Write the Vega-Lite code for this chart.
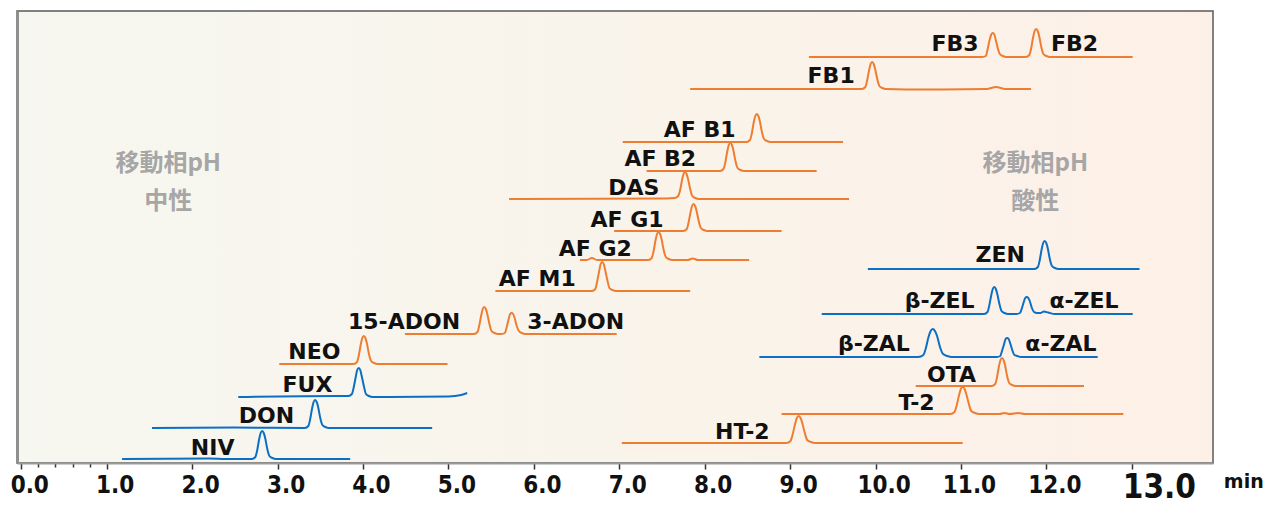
{
  "$schema": "https://vega.github.io/schema/vega-lite/v6.json",
  "width": 1196,
  "height": 452,
  "autosize": "none",
  "padding": {"left": 17, "top": 11, "right": 59, "bottom": 43},
  "background": "white",
  "config": {"view": {"stroke": "#5a5a5a", "strokeWidth": 1.5, "fill": {"gradient": "linear", "x1": 0, "x2": 1, "y1": 0, "y2": 0, "stops": [{"offset": 0, "color": "#f6f7f0"}, {"offset": 0.5, "color": "#f9f4eb"}, {"offset": 1, "color": "#fdf0e7"}]}}},
  "datasets": {
    "traces": [
      {"s":"NIV","c":"b","t":1.18,"v":4},{"s":"NIV","c":"b","t":2.2,"v":4.5},{"s":"NIV","c":"b","t":2.4,"v":4},{"s":"NIV","c":"b","t":2.7,"v":4},{"s":"NIV","c":"b","t":2.74,"v":6},{"s":"NIV","c":"b","t":2.76,"v":12},{"s":"NIV","c":"b","t":2.785,"v":24},{"s":"NIV","c":"b","t":2.802,"v":30},{"s":"NIV","c":"b","t":2.82,"v":32},{"s":"NIV","c":"b","t":2.838,"v":30},{"s":"NIV","c":"b","t":2.855,"v":25},{"s":"NIV","c":"b","t":2.88,"v":14},{"s":"NIV","c":"b","t":2.905,"v":7},{"s":"NIV","c":"b","t":2.94,"v":5},{"s":"NIV","c":"b","t":2.98,"v":4},{"s":"NIV","c":"b","t":3.85,"v":4},
      {"s":"DON","c":"b","t":1.53,"v":35},{"s":"DON","c":"b","t":2.5,"v":35.5},{"s":"DON","c":"b","t":3.32,"v":35},{"s":"DON","c":"b","t":3.36,"v":37},{"s":"DON","c":"b","t":3.38,"v":43},{"s":"DON","c":"b","t":3.405,"v":55},{"s":"DON","c":"b","t":3.422,"v":61},{"s":"DON","c":"b","t":3.44,"v":63},{"s":"DON","c":"b","t":3.458,"v":61},{"s":"DON","c":"b","t":3.475,"v":56},{"s":"DON","c":"b","t":3.5,"v":45},{"s":"DON","c":"b","t":3.525,"v":38},{"s":"DON","c":"b","t":3.56,"v":36},{"s":"DON","c":"b","t":3.6,"v":35},{"s":"DON","c":"b","t":4.81,"v":35},
      {"s":"FUX","c":"b","t":2.54,"v":66},{"s":"FUX","c":"b","t":3.7,"v":67},{"s":"FUX","c":"b","t":3.83,"v":67},{"s":"FUX","c":"b","t":3.87,"v":69},{"s":"FUX","c":"b","t":3.89,"v":75},{"s":"FUX","c":"b","t":3.915,"v":86},{"s":"FUX","c":"b","t":3.932,"v":93},{"s":"FUX","c":"b","t":3.95,"v":95},{"s":"FUX","c":"b","t":3.968,"v":93},{"s":"FUX","c":"b","t":3.985,"v":87},{"s":"FUX","c":"b","t":4.01,"v":77},{"s":"FUX","c":"b","t":4.035,"v":69},{"s":"FUX","c":"b","t":4.07,"v":67},{"s":"FUX","c":"b","t":4.11,"v":66},{"s":"FUX","c":"b","t":5.0,"v":66.5},{"s":"FUX","c":"b","t":5.15,"v":68},{"s":"FUX","c":"b","t":5.22,"v":70},
      {"s":"NEO","c":"o","t":3.02,"v":99},{"s":"NEO","c":"o","t":3.89,"v":99},{"s":"NEO","c":"o","t":3.93,"v":101},{"s":"NEO","c":"o","t":3.95,"v":107},{"s":"NEO","c":"o","t":3.975,"v":119},{"s":"NEO","c":"o","t":3.992,"v":125},{"s":"NEO","c":"o","t":4.01,"v":127},{"s":"NEO","c":"o","t":4.028,"v":125},{"s":"NEO","c":"o","t":4.045,"v":120},{"s":"NEO","c":"o","t":4.07,"v":109},{"s":"NEO","c":"o","t":4.095,"v":102},{"s":"NEO","c":"o","t":4.13,"v":100},{"s":"NEO","c":"o","t":4.17,"v":99},{"s":"NEO","c":"o","t":4.99,"v":99},
      {"s":"ADON","c":"o","t":4.49,"v":129},{"s":"ADON","c":"o","t":5.3,"v":129},{"s":"ADON","c":"o","t":5.34,"v":131},{"s":"ADON","c":"o","t":5.36,"v":137},{"s":"ADON","c":"o","t":5.385,"v":148},{"s":"ADON","c":"o","t":5.402,"v":154},{"s":"ADON","c":"o","t":5.42,"v":156},{"s":"ADON","c":"o","t":5.438,"v":154},{"s":"ADON","c":"o","t":5.455,"v":149},{"s":"ADON","c":"o","t":5.48,"v":139},{"s":"ADON","c":"o","t":5.505,"v":132},{"s":"ADON","c":"o","t":5.54,"v":130},{"s":"ADON","c":"o","t":5.58,"v":129},{"s":"ADON","c":"o","t":5.62,"v":129},{"s":"ADON","c":"o","t":5.66,"v":130},{"s":"ADON","c":"o","t":5.68,"v":135},{"s":"ADON","c":"o","t":5.705,"v":144},{"s":"ADON","c":"o","t":5.722,"v":149},{"s":"ADON","c":"o","t":5.74,"v":150},{"s":"ADON","c":"o","t":5.758,"v":149},{"s":"ADON","c":"o","t":5.775,"v":145},{"s":"ADON","c":"o","t":5.8,"v":137},{"s":"ADON","c":"o","t":5.825,"v":132},{"s":"ADON","c":"o","t":5.86,"v":130},{"s":"ADON","c":"o","t":5.9,"v":129},{"s":"ADON","c":"o","t":6.97,"v":129},
      {"s":"AFM1","c":"o","t":5.55,"v":172},{"s":"AFM1","c":"o","t":6.68,"v":172},{"s":"AFM1","c":"o","t":6.72,"v":174},{"s":"AFM1","c":"o","t":6.74,"v":181},{"s":"AFM1","c":"o","t":6.765,"v":192},{"s":"AFM1","c":"o","t":6.782,"v":199},{"s":"AFM1","c":"o","t":6.8,"v":201},{"s":"AFM1","c":"o","t":6.818,"v":199},{"s":"AFM1","c":"o","t":6.835,"v":193},{"s":"AFM1","c":"o","t":6.86,"v":183},{"s":"AFM1","c":"o","t":6.885,"v":175},{"s":"AFM1","c":"o","t":6.92,"v":173},{"s":"AFM1","c":"o","t":6.96,"v":172},{"s":"AFM1","c":"o","t":7.83,"v":172},
      {"s":"AFG2","c":"o","t":6.54,"v":203},{"s":"AFG2","c":"o","t":6.62,"v":203},{"s":"AFG2","c":"o","t":6.68,"v":205},{"s":"AFG2","c":"o","t":6.74,"v":203},{"s":"AFG2","c":"o","t":7.34,"v":203},{"s":"AFG2","c":"o","t":7.38,"v":205},{"s":"AFG2","c":"o","t":7.4,"v":211},{"s":"AFG2","c":"o","t":7.425,"v":223},{"s":"AFG2","c":"o","t":7.442,"v":229},{"s":"AFG2","c":"o","t":7.46,"v":231},{"s":"AFG2","c":"o","t":7.478,"v":229},{"s":"AFG2","c":"o","t":7.495,"v":224},{"s":"AFG2","c":"o","t":7.52,"v":213},{"s":"AFG2","c":"o","t":7.545,"v":206},{"s":"AFG2","c":"o","t":7.58,"v":204},{"s":"AFG2","c":"o","t":7.62,"v":203},{"s":"AFG2","c":"o","t":7.8,"v":203},{"s":"AFG2","c":"o","t":7.86,"v":204.5},{"s":"AFG2","c":"o","t":7.92,"v":203},{"s":"AFG2","c":"o","t":8.52,"v":203},
      {"s":"AFG1","c":"o","t":6.94,"v":232},{"s":"AFG1","c":"o","t":7.75,"v":232},{"s":"AFG1","c":"o","t":7.79,"v":234},{"s":"AFG1","c":"o","t":7.81,"v":240},{"s":"AFG1","c":"o","t":7.835,"v":251},{"s":"AFG1","c":"o","t":7.852,"v":257},{"s":"AFG1","c":"o","t":7.87,"v":259},{"s":"AFG1","c":"o","t":7.888,"v":257},{"s":"AFG1","c":"o","t":7.905,"v":252},{"s":"AFG1","c":"o","t":7.93,"v":242},{"s":"AFG1","c":"o","t":7.955,"v":235},{"s":"AFG1","c":"o","t":7.99,"v":233},{"s":"AFG1","c":"o","t":8.03,"v":232},{"s":"AFG1","c":"o","t":8.9,"v":232},
      {"s":"DAS","c":"o","t":5.71,"v":264},{"s":"DAS","c":"o","t":7.55,"v":264.5},{"s":"DAS","c":"o","t":7.65,"v":265},{"s":"DAS","c":"o","t":7.69,"v":267},{"s":"DAS","c":"o","t":7.71,"v":272},{"s":"DAS","c":"o","t":7.735,"v":283},{"s":"DAS","c":"o","t":7.752,"v":289},{"s":"DAS","c":"o","t":7.77,"v":291},{"s":"DAS","c":"o","t":7.788,"v":289},{"s":"DAS","c":"o","t":7.805,"v":284},{"s":"DAS","c":"o","t":7.83,"v":274},{"s":"DAS","c":"o","t":7.855,"v":267},{"s":"DAS","c":"o","t":7.89,"v":265},{"s":"DAS","c":"o","t":7.93,"v":264},{"s":"DAS","c":"o","t":9.69,"v":264},
      {"s":"AFB2","c":"o","t":7.32,"v":292},{"s":"AFB2","c":"o","t":8.18,"v":292},{"s":"AFB2","c":"o","t":8.22,"v":294},{"s":"AFB2","c":"o","t":8.24,"v":300},{"s":"AFB2","c":"o","t":8.265,"v":312},{"s":"AFB2","c":"o","t":8.282,"v":318},{"s":"AFB2","c":"o","t":8.3,"v":320},{"s":"AFB2","c":"o","t":8.318,"v":318},{"s":"AFB2","c":"o","t":8.335,"v":313},{"s":"AFB2","c":"o","t":8.36,"v":302},{"s":"AFB2","c":"o","t":8.385,"v":295},{"s":"AFB2","c":"o","t":8.42,"v":293},{"s":"AFB2","c":"o","t":8.46,"v":292},{"s":"AFB2","c":"o","t":9.31,"v":292},
      {"s":"AFB1","c":"o","t":7.04,"v":321},{"s":"AFB1","c":"o","t":8.49,"v":321},{"s":"AFB1","c":"o","t":8.53,"v":323},{"s":"AFB1","c":"o","t":8.55,"v":329},{"s":"AFB1","c":"o","t":8.575,"v":341},{"s":"AFB1","c":"o","t":8.592,"v":347},{"s":"AFB1","c":"o","t":8.61,"v":349},{"s":"AFB1","c":"o","t":8.628,"v":347},{"s":"AFB1","c":"o","t":8.645,"v":342},{"s":"AFB1","c":"o","t":8.67,"v":331},{"s":"AFB1","c":"o","t":8.695,"v":324},{"s":"AFB1","c":"o","t":8.73,"v":322},{"s":"AFB1","c":"o","t":8.77,"v":321},{"s":"AFB1","c":"o","t":9.62,"v":321},
      {"s":"FB1","c":"o","t":7.83,"v":374},{"s":"FB1","c":"o","t":9.84,"v":374},{"s":"FB1","c":"o","t":9.88,"v":376},{"s":"FB1","c":"o","t":9.9,"v":382},{"s":"FB1","c":"o","t":9.925,"v":393},{"s":"FB1","c":"o","t":9.942,"v":399},{"s":"FB1","c":"o","t":9.96,"v":401},{"s":"FB1","c":"o","t":9.978,"v":399},{"s":"FB1","c":"o","t":9.995,"v":394},{"s":"FB1","c":"o","t":10.02,"v":384},{"s":"FB1","c":"o","t":10.045,"v":377},{"s":"FB1","c":"o","t":10.08,"v":375},{"s":"FB1","c":"o","t":10.12,"v":374},{"s":"FB1","c":"o","t":10.6,"v":373.5},{"s":"FB1","c":"o","t":11.3,"v":374},{"s":"FB1","c":"o","t":11.41,"v":376},{"s":"FB1","c":"o","t":11.52,"v":374},{"s":"FB1","c":"o","t":11.82,"v":374},
      {"s":"FB23","c":"o","t":9.22,"v":406},{"s":"FB23","c":"o","t":11.25,"v":406},{"s":"FB23","c":"o","t":11.29,"v":407},{"s":"FB23","c":"o","t":11.31,"v":413},{"s":"FB23","c":"o","t":11.335,"v":423},{"s":"FB23","c":"o","t":11.352,"v":428},{"s":"FB23","c":"o","t":11.37,"v":430},{"s":"FB23","c":"o","t":11.388,"v":429},{"s":"FB23","c":"o","t":11.405,"v":424},{"s":"FB23","c":"o","t":11.43,"v":415},{"s":"FB23","c":"o","t":11.455,"v":409},{"s":"FB23","c":"o","t":11.49,"v":407},{"s":"FB23","c":"o","t":11.53,"v":406},{"s":"FB23","c":"o","t":11.76,"v":406},{"s":"FB23","c":"o","t":11.8,"v":408},{"s":"FB23","c":"o","t":11.82,"v":414},{"s":"FB23","c":"o","t":11.845,"v":426},{"s":"FB23","c":"o","t":11.862,"v":432},{"s":"FB23","c":"o","t":11.88,"v":434},{"s":"FB23","c":"o","t":11.898,"v":432},{"s":"FB23","c":"o","t":11.915,"v":427},{"s":"FB23","c":"o","t":11.94,"v":416},{"s":"FB23","c":"o","t":11.965,"v":409},{"s":"FB23","c":"o","t":12.0,"v":407},{"s":"FB23","c":"o","t":12.04,"v":406},{"s":"FB23","c":"o","t":13.01,"v":406},
      {"s":"ZEN","c":"b","t":9.91,"v":194},{"s":"ZEN","c":"b","t":11.86,"v":194},{"s":"ZEN","c":"b","t":11.9,"v":196},{"s":"ZEN","c":"b","t":11.92,"v":202},{"s":"ZEN","c":"b","t":11.945,"v":214},{"s":"ZEN","c":"b","t":11.962,"v":220},{"s":"ZEN","c":"b","t":11.98,"v":222},{"s":"ZEN","c":"b","t":11.998,"v":220},{"s":"ZEN","c":"b","t":12.015,"v":215},{"s":"ZEN","c":"b","t":12.04,"v":204},{"s":"ZEN","c":"b","t":12.065,"v":197},{"s":"ZEN","c":"b","t":12.1,"v":195},{"s":"ZEN","c":"b","t":12.14,"v":194},{"s":"ZEN","c":"b","t":13.09,"v":194},
      {"s":"ZEL","c":"b","t":9.37,"v":149},{"s":"ZEL","c":"b","t":11.27,"v":149},{"s":"ZEL","c":"b","t":11.31,"v":151},{"s":"ZEL","c":"b","t":11.33,"v":157},{"s":"ZEL","c":"b","t":11.355,"v":168},{"s":"ZEL","c":"b","t":11.372,"v":174},{"s":"ZEL","c":"b","t":11.39,"v":176},{"s":"ZEL","c":"b","t":11.408,"v":174},{"s":"ZEL","c":"b","t":11.425,"v":169},{"s":"ZEL","c":"b","t":11.45,"v":159},{"s":"ZEL","c":"b","t":11.475,"v":152},{"s":"ZEL","c":"b","t":11.51,"v":150},{"s":"ZEL","c":"b","t":11.55,"v":149},{"s":"ZEL","c":"b","t":11.65,"v":149},{"s":"ZEL","c":"b","t":11.69,"v":150},{"s":"ZEL","c":"b","t":11.71,"v":154},{"s":"ZEL","c":"b","t":11.735,"v":161},{"s":"ZEL","c":"b","t":11.752,"v":165},{"s":"ZEL","c":"b","t":11.77,"v":166},{"s":"ZEL","c":"b","t":11.788,"v":165},{"s":"ZEL","c":"b","t":11.805,"v":162},{"s":"ZEL","c":"b","t":11.83,"v":155},{"s":"ZEL","c":"b","t":11.855,"v":151},{"s":"ZEL","c":"b","t":11.89,"v":150},{"s":"ZEL","c":"b","t":11.93,"v":150},{"s":"ZEL","c":"b","t":11.97,"v":151.5},{"s":"ZEL","c":"b","t":12.02,"v":150.5},{"s":"ZEL","c":"b","t":12.1,"v":149},{"s":"ZEL","c":"b","t":13.01,"v":149},
      {"s":"ZAL","c":"b","t":8.64,"v":106},{"s":"ZAL","c":"b","t":10.5,"v":106},{"s":"ZAL","c":"b","t":10.56,"v":108},{"s":"ZAL","c":"b","t":10.586,"v":114},{"s":"ZAL","c":"b","t":10.62,"v":126},{"s":"ZAL","c":"b","t":10.645,"v":132},{"s":"ZAL","c":"b","t":10.67,"v":134},{"s":"ZAL","c":"b","t":10.695,"v":132},{"s":"ZAL","c":"b","t":10.72,"v":127},{"s":"ZAL","c":"b","t":10.754,"v":116},{"s":"ZAL","c":"b","t":10.79,"v":109},{"s":"ZAL","c":"b","t":10.84,"v":107},{"s":"ZAL","c":"b","t":10.89,"v":106},{"s":"ZAL","c":"b","t":11.42,"v":106},{"s":"ZAL","c":"b","t":11.46,"v":107},{"s":"ZAL","c":"b","t":11.48,"v":112},{"s":"ZAL","c":"b","t":11.505,"v":119},{"s":"ZAL","c":"b","t":11.522,"v":124},{"s":"ZAL","c":"b","t":11.54,"v":125},{"s":"ZAL","c":"b","t":11.558,"v":124},{"s":"ZAL","c":"b","t":11.575,"v":120},{"s":"ZAL","c":"b","t":11.6,"v":113},{"s":"ZAL","c":"b","t":11.625,"v":108},{"s":"ZAL","c":"b","t":11.66,"v":107},{"s":"ZAL","c":"b","t":11.7,"v":106},{"s":"ZAL","c":"b","t":12.6,"v":106},
      {"s":"OTA","c":"o","t":10.47,"v":77},{"s":"OTA","c":"o","t":11.36,"v":77},{"s":"OTA","c":"o","t":11.4,"v":79},{"s":"OTA","c":"o","t":11.42,"v":85},{"s":"OTA","c":"o","t":11.445,"v":97},{"s":"OTA","c":"o","t":11.462,"v":103},{"s":"OTA","c":"o","t":11.48,"v":105},{"s":"OTA","c":"o","t":11.498,"v":103},{"s":"OTA","c":"o","t":11.515,"v":98},{"s":"OTA","c":"o","t":11.54,"v":87},{"s":"OTA","c":"o","t":11.565,"v":80},{"s":"OTA","c":"o","t":11.6,"v":78},{"s":"OTA","c":"o","t":11.64,"v":77},{"s":"OTA","c":"o","t":12.44,"v":77},
      {"s":"T2","c":"o","t":8.9,"v":49},{"s":"T2","c":"o","t":10.876,"v":49},{"s":"T2","c":"o","t":10.924,"v":51},{"s":"T2","c":"o","t":10.948,"v":57},{"s":"T2","c":"o","t":10.978,"v":68},{"s":"T2","c":"o","t":10.998,"v":74},{"s":"T2","c":"o","t":11.02,"v":76},{"s":"T2","c":"o","t":11.042,"v":74},{"s":"T2","c":"o","t":11.062,"v":69},{"s":"T2","c":"o","t":11.092,"v":59},{"s":"T2","c":"o","t":11.12,"v":52},{"s":"T2","c":"o","t":11.164,"v":50},{"s":"T2","c":"o","t":11.21,"v":49},{"s":"T2","c":"o","t":11.45,"v":49},{"s":"T2","c":"o","t":11.51,"v":50},{"s":"T2","c":"o","t":11.57,"v":49},{"s":"T2","c":"o","t":11.67,"v":50},{"s":"T2","c":"o","t":11.75,"v":49},{"s":"T2","c":"o","t":12.9,"v":49},
      {"s":"HT2","c":"o","t":7.03,"v":20},{"s":"HT2","c":"o","t":8.956,"v":20},{"s":"HT2","c":"o","t":9.004,"v":22},{"s":"HT2","c":"o","t":9.028,"v":28},{"s":"HT2","c":"o","t":9.058,"v":39},{"s":"HT2","c":"o","t":9.078,"v":45},{"s":"HT2","c":"o","t":9.1,"v":47},{"s":"HT2","c":"o","t":9.122,"v":45},{"s":"HT2","c":"o","t":9.142,"v":40},{"s":"HT2","c":"o","t":9.172,"v":30},{"s":"HT2","c":"o","t":9.2,"v":23},{"s":"HT2","c":"o","t":9.244,"v":21},{"s":"HT2","c":"o","t":9.29,"v":20},{"s":"HT2","c":"o","t":11.02,"v":20}
    ],
    "labels": [
      {"k":"p","label":"NIV","t":2.24,"v":15},
      {"k":"p","label":"DON","t":2.87,"v":47},
      {"k":"p","label":"FUX","t":3.35,"v":78},
      {"k":"p","label":"NEO","t":3.43,"v":111},
      {"k":"p","label":"15-ADON","t":4.48,"v":141},
      {"k":"p","label":"3-ADON","t":6.49,"v":141},
      {"k":"p","label":"AF M1","t":6.04,"v":184},
      {"k":"p","label":"AF G2","t":6.72,"v":214},
      {"k":"p","label":"AF G1","t":7.09,"v":243},
      {"k":"p","label":"DAS","t":7.17,"v":275},
      {"k":"p","label":"AF B2","t":7.48,"v":304},
      {"k":"p","label":"AF B1","t":7.94,"v":333},
      {"k":"p","label":"FB1","t":9.48,"v":387},
      {"k":"p","label":"FB3","t":10.93,"v":419},
      {"k":"p","label":"FB2","t":12.33,"v":419},
      {"k":"p","label":"ZEN","t":11.46,"v":208},
      {"k":"p","label":"β-ZEL","t":10.75,"v":162},
      {"k":"p","label":"α-ZEL","t":12.44,"v":162},
      {"k":"p","label":"β-ZAL","t":9.98,"v":119},
      {"k":"p","label":"α-ZAL","t":12.17,"v":119},
      {"k":"p","label":"OTA","t":10.89,"v":88},
      {"k":"p","label":"T-2","t":10.48,"v":60},
      {"k":"p","label":"HT-2","t":8.44,"v":31},
      {"k":"g","label":"移動相pH","t":1.72,"v":299},
      {"k":"g","label":"中性","t":1.72,"v":261},
      {"k":"g","label":"移動相pH","t":11.87,"v":299},
      {"k":"g","label":"酸性","t":11.87,"v":261},
      {"k":"u","label":"min","t":14.31,"v":-25}
    ]
  },
  "encoding": {
    "x": {
      "field": "t", "type": "quantitative",
      "scale": {"domain": [-0.05, 13.95], "nice": false, "zero": false},
      "axis": {
        "values": [0, 0.2, 0.4, 0.6, 0.8, 1, 2, 3, 4, 5, 6, 7, 8, 9, 10, 11, 12, 13],
        "labelExpr": "datum.value % 1 == 0 ? format(datum.value, '.1f') : ''",
        "labelFont": "DejaVu Sans Condensed",
        "labelFontWeight": "bold",
        "labelFontSize": {"condition": {"test": "datum.value == 13", "value": 33}, "value": 24},
        "labelOffset": {"condition": {"test": "datum.value == 13", "value": 27}, "value": 8},
        "labelPadding": {"condition": {"test": "datum.value == 13", "value": 2}, "value": 4},
        "labelColor": "#111111",
        "labelOverlap": false,
        "labelFlush": false,
        "tickSize": {"condition": {"test": "datum.value % 1 != 0", "value": 4}, "value": 6},
        "tickColor": "#333333",
        "tickWidth": 1.5,
        "domainColor": "#9a9a9a",
        "domainWidth": 2,
        "grid": false,
        "title": null
      }
    },
    "y": {
      "field": "v", "type": "quantitative",
      "scale": {"domain": [0, 452], "nice": false, "zero": false},
      "axis": {"labels": false, "ticks": false, "grid": false, "title": null, "domainColor": "#8f8f8f", "domainWidth": 3}
    }
  },
  "layer": [
    {
      "data": {"name": "traces"},
      "mark": {"type": "line", "strokeWidth": 2, "interpolate": "monotone"},
      "encoding": {
        "detail": {"field": "s"},
        "color": {"field": "c", "type": "nominal", "scale": {"domain": ["b", "o"], "range": ["#0b6fc4", "#ef7d31"]}, "legend": null}
      }
    },
    {
      "data": {"name": "labels"},
      "transform": [{"filter": "datum.k == 'p'"}],
      "mark": {"type": "text", "font": "DejaVu Sans", "fontWeight": "bold", "fontSize": 22, "color": "#111111", "baseline": "middle", "align": "center"},
      "encoding": {"text": {"field": "label"}}
    },
    {
      "data": {"name": "labels"},
      "transform": [{"filter": "datum.k == 'g'"}],
      "mark": {"type": "text", "font": "Noto Sans CJK JP", "fontWeight": "bold", "fontSize": 24, "color": "#a6a6a6", "baseline": "middle", "align": "center"},
      "encoding": {"text": {"field": "label"}}
    },
    {
      "data": {"name": "labels"},
      "transform": [{"filter": "datum.k == 'u'"}],
      "mark": {"type": "text", "font": "DejaVu Sans", "fontWeight": "bold", "fontSize": 19, "color": "#111111", "baseline": "alphabetic", "align": "center"},
      "encoding": {"text": {"field": "label"}}
    }
  ]
}
